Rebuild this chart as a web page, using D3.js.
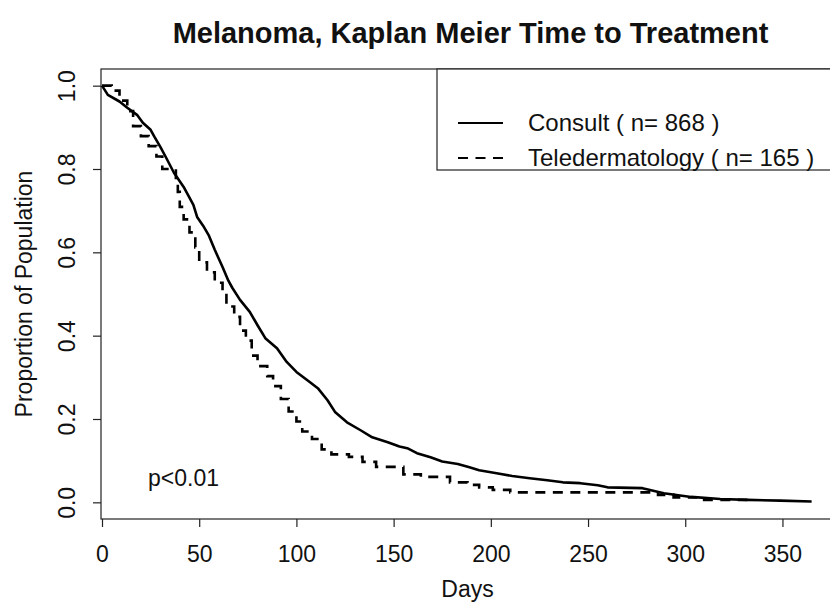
<!DOCTYPE html>
<html>
<head>
<meta charset="utf-8">
<script src="https://cdn.jsdelivr.net/npm/d3@7"></script>
<style>
  body { margin: 0; background: #fff; }
  svg text { font-family: "Liberation Sans", Arial, Helvetica, sans-serif; fill: #111; }
</style>
</head>
<body>
<svg id="chart" width="830" height="604"></svg>
<script>
// Consult (n=868): [day, proportion remaining]
const consultDays = [0, 3, 9, 13, 18, 21, 25, 27, 30, 33, 37, 42, 47, 49, 52, 55, 58, 62, 65, 67, 71, 76, 80, 84, 90, 95, 100, 107, 111, 116, 120, 126, 133, 139, 147, 153, 157, 162, 169, 175, 183, 189, 194, 203, 211, 220, 229, 237, 246, 255, 260, 278, 289, 303, 318, 332, 349, 365];
const consultSurv = [1.0, 0.978, 0.962, 0.947, 0.93, 0.911, 0.894, 0.877, 0.853, 0.827, 0.791, 0.757, 0.714, 0.684, 0.664, 0.64, 0.606, 0.565, 0.532, 0.515, 0.486, 0.457, 0.425, 0.394, 0.37, 0.337, 0.313, 0.288, 0.274, 0.245, 0.216, 0.192, 0.173, 0.156, 0.144, 0.134, 0.13, 0.118, 0.108, 0.098, 0.092, 0.084, 0.077, 0.07, 0.063, 0.058, 0.053, 0.048, 0.046, 0.041, 0.036, 0.034, 0.022, 0.013, 0.008, 0.006, 0.004, 0.002];

// Teledermatology (n=165): step times and value after each step
const teleDays = [0, 5, 9, 13, 16, 20, 24, 28, 31, 38, 39, 40, 42, 45, 48, 50, 54, 58, 62, 64, 68, 71, 74, 77, 80, 85, 88, 92, 96, 100, 103, 108, 113, 118, 127, 134, 141, 155, 164, 179, 188, 194, 201, 210, 286, 294, 306, 332];
const teleSurv = [1.0, 0.988, 0.964, 0.939, 0.903, 0.879, 0.855, 0.83, 0.8, 0.77, 0.745, 0.709, 0.679, 0.648, 0.612, 0.576, 0.552, 0.527, 0.503, 0.47, 0.445, 0.412, 0.388, 0.352, 0.327, 0.303, 0.279, 0.248, 0.218, 0.194, 0.17, 0.152, 0.127, 0.115, 0.109, 0.097, 0.085, 0.067, 0.061, 0.048, 0.042, 0.036, 0.03, 0.024, 0.018, 0.012, 0.006, 0.006];

const xTicks = [0, 50, 100, 150, 200, 250, 300, 350];
const yTicks = [0.0, 0.2, 0.4, 0.6, 0.8, 1.0];

const legendLabels = ["Consult ( n= 868 )", "Teledermatology ( n= 165 )"];
const legendDash = [null, "10,7.5"];

const svg = d3.select("#chart");

// plot region (right edge runs off the picture, as in the scan)
const plot = { left: 101, right: 840, top: 69, bottom: 519 };

const x = d3.scaleLinear().domain([0, 379.6]).range([102, plot.right]);
const y = d3.scaleLinear().domain([-0.04, 1.04]).range([plot.bottom, plot.top]);

// box
svg.append("rect")
  .attr("x", plot.left).attr("y", plot.top)
  .attr("width", plot.right - plot.left).attr("height", plot.bottom - plot.top)
  .attr("fill", "none").attr("stroke", "#222").attr("stroke-width", 1.2);

// axes
const xAxis = d3.axisBottom(x).tickValues(xTicks).tickSize(8).tickFormat(d3.format("d"));
const gx = svg.append("g").attr("transform", `translate(0,${plot.bottom})`).call(xAxis);
gx.select(".domain").remove();
gx.selectAll("line").attr("stroke", "#222").attr("stroke-width", 1.2);
gx.selectAll("text").attr("font-size", 23).attr("fill", "#111")
  .attr("dy", null).attr("y", 43);

const yAxis = d3.axisLeft(y).tickValues(yTicks).tickSize(8).tickFormat(d3.format(".1f"));
const gy = svg.append("g").attr("transform", `translate(${plot.left},0)`).call(yAxis);
gy.select(".domain").remove();
gy.selectAll("line").attr("stroke", "#222").attr("stroke-width", 1.2);
gy.selectAll("text")
  .attr("font-size", 23).attr("fill", "#111")
  .attr("x", null).attr("dy", null)
  .attr("text-anchor", "middle")
  .attr("transform", "translate(-26,0) rotate(-90)");

// curves
const consult = consultDays.map((d, i) => [d, consultSurv[i]]);
const tele = teleDays.map((d, i) => [d, teleSurv[i]]);

svg.append("path")
  .datum(consult)
  .attr("d", d3.line().x(d => x(d[0])).y(d => y(d[1])))
  .attr("fill", "none").attr("stroke", "#000").attr("stroke-width", 2.6)
  .attr("stroke-linejoin", "round");

svg.append("path")
  .datum(tele)
  .attr("d", d3.line().x(d => x(d[0])).y(d => y(d[1])).curve(d3.curveStepAfter))
  .attr("fill", "none").attr("stroke", "#000").attr("stroke-width", 2.6)
  .attr("stroke-dasharray", "10,7.5");

// titles
svg.append("text")
  .attr("x", (plot.left + plot.right) / 2).attr("y", 43)
  .attr("text-anchor", "middle")
  .attr("font-size", 29).attr("font-weight", "bold")
  .text("Melanoma, Kaplan Meier Time to Treatment");

svg.append("text")
  .attr("x", (plot.left + plot.right) / 2 - 3).attr("y", 597)
  .attr("text-anchor", "middle").attr("font-size", 23)
  .text("Days");

svg.append("text")
  .attr("transform", `translate(32,${(plot.top + plot.bottom) / 2}) rotate(-90)`)
  .attr("text-anchor", "middle").attr("font-size", 23)
  .text("Proportion of Population");

svg.append("text")
  .attr("x", 148).attr("y", 486)
  .attr("font-size", 23)
  .text("p<0.01");

// legend
const lg = svg.append("g");
lg.append("rect")
  .attr("x", 437).attr("y", plot.top)
  .attr("width", plot.right - 437).attr("height", 170 - plot.top)
  .attr("fill", "#fff").attr("stroke", "#222").attr("stroke-width", 1.2);

legendLabels.forEach((lab, i) => {
  const ly = 123 + i * 35;
  lg.append("line")
    .attr("x1", 458).attr("x2", 503).attr("y1", ly).attr("y2", ly)
    .attr("stroke", "#000").attr("stroke-width", 2.2)
    .attr("stroke-dasharray", legendDash[i]);
  lg.append("text")
    .attr("x", 528).attr("y", ly + 8)
    .attr("font-size", 24)
    .text(lab);
});
</script>
</body>
</html>
